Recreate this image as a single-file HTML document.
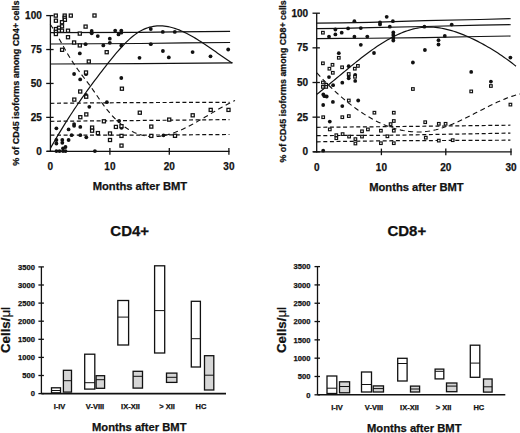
<!DOCTYPE html><html><head><meta charset="utf-8"><style>html,body{margin:0;padding:0;background:#fff;}svg{display:block;} text{font-family:"Liberation Sans", sans-serif;font-weight:bold;fill:#111;stroke:#111;stroke-width:0.25px;}</style></head><body>
<svg width="520" height="433" viewBox="0 0 520 433">
<rect width="520" height="433" fill="#fff"/>
<g stroke="#111" stroke-width="1.3" fill="none">
<line x1="50.4" y1="15.6" x2="50.4" y2="151.9"/>
<line x1="46.9" y1="151.3" x2="229.5" y2="151.3"/>
<line x1="46.2" y1="151.3" x2="53.6" y2="151.3"/>
<line x1="46.2" y1="117.38" x2="53.6" y2="117.38"/>
<line x1="46.2" y1="83.45" x2="53.6" y2="83.45"/>
<line x1="46.2" y1="49.53" x2="53.6" y2="49.53"/>
<line x1="46.2" y1="15.6" x2="53.6" y2="15.6"/>
<line x1="109.9" y1="148.1" x2="109.9" y2="154.7"/>
<line x1="169.3" y1="148.1" x2="169.3" y2="154.7"/>
<line x1="228.9" y1="148.1" x2="228.9" y2="154.7"/>
</g>
<g stroke="#111" stroke-width="1.2" fill="none">
<polyline points="50.4,32.6 140,32.4 175,31.9 230.1,31.3"/>
<polyline points="50.4,44 140,43.5 185,42.8 230.1,42.5"/>
<polyline points="50.4,64 140,63.7 232.5,62.9"/>
</g>
<g stroke="#111" stroke-width="1.2" fill="none" stroke-dasharray="4 2.6">
<polyline points="50.4,103.3 130,102.6 229.5,102.3"/>
<polyline points="50.4,121.3 130,120.6 229.5,119.6"/>
<polyline points="50.4,135.2 130,135.2 229.5,134.5"/>
</g>
<path d="M50.5 148.17 L52.34 144.92 L54.17 141.71 L56.01 138.54 L57.85 135.43 L59.68 132.35 L61.52 129.32 L63.35 126.33 L65.19 123.38 L67.03 120.47 L68.86 117.6 L70.7 114.76 L72.54 111.96 L74.37 109.2 L76.21 106.47 L78.05 103.77 L79.88 101.1 L81.72 98.46 L83.55 95.85 L85.39 93.26 L87.23 90.71 L89.06 88.18 L90.9 85.67 L92.74 83.18 L94.57 80.72 L96.41 78.28 L98.25 75.85 L100.08 73.45 L101.92 71.06 L103.75 68.68 L105.59 66.33 L107.43 63.98 L109.26 61.66 L111.1 59.37 L112.94 57.11 L114.77 54.89 L116.61 52.71 L118.45 50.58 L120.28 48.51 L122.12 46.49 L123.95 44.55 L125.79 42.68 L127.63 40.88 L129.46 39.17 L131.3 37.55 L133.14 36.03 L134.97 34.61 L136.81 33.29 L138.65 32.09 L140.48 31 L142.32 30.02 L144.15 29.16 L145.99 28.4 L147.83 27.74 L149.66 27.19 L151.5 26.73 L153.34 26.38 L155.17 26.11 L157.01 25.94 L158.85 25.85 L160.68 25.85 L162.52 25.93 L164.35 26.09 L166.19 26.33 L168.03 26.64 L169.86 27.03 L171.7 27.48 L173.54 28 L175.37 28.58 L177.21 29.23 L179.05 29.93 L180.88 30.68 L182.72 31.49 L184.55 32.35 L186.39 33.25 L188.23 34.2 L190.06 35.19 L191.9 36.22 L193.74 37.28 L195.57 38.38 L197.41 39.51 L199.25 40.67 L201.08 41.85 L202.92 43.05 L204.75 44.27 L206.59 45.51 L208.43 46.77 L210.26 48.03 L212.1 49.3 L213.94 50.58 L215.77 51.86 L217.61 53.15 L219.45 54.43 L221.28 55.7 L223.12 56.97 L224.95 58.22 L226.79 59.47 L228.63 60.69 L230.46 61.9 L232.3 63.09" stroke="#111" stroke-width="1.2" fill="none"/>
<path d="M50.2 24.23 L52.07 26.98 L53.93 29.92 L55.8 33.02 L57.67 36.23 L59.53 39.53 L61.4 42.87 L63.27 46.22 L65.13 49.55 L67 52.82 L68.87 55.99 L70.73 59.03 L72.6 61.92 L74.47 64.69 L76.33 67.39 L78.2 70.01 L80.07 72.57 L81.93 75.07 L83.8 77.54 L85.67 79.98 L87.53 82.43 L89.4 84.91 L91.27 87.46 L93.13 90.1 L95 92.8 L96.87 95.53 L98.73 98.27 L100.6 100.98 L102.47 103.62 L104.33 106.18 L106.2 108.62 L108.07 110.94 L109.93 113.16 L111.8 115.26 L113.67 117.25 L115.53 119.14 L117.4 120.91 L119.27 122.59 L121.13 124.16 L123 125.62 L124.87 126.99 L126.73 128.26 L128.6 129.44 L130.47 130.51 L132.33 131.5 L134.2 132.39 L136.07 133.19 L137.93 133.91 L139.8 134.54 L141.67 135.08 L143.53 135.54 L145.4 135.91 L147.27 136.21 L149.13 136.42 L151 136.56 L152.87 136.63 L154.73 136.62 L156.6 136.53 L158.47 136.38 L160.33 136.16 L162.2 135.87 L164.07 135.53 L165.93 135.12 L167.8 134.65 L169.67 134.13 L171.53 133.55 L173.4 132.93 L175.27 132.26 L177.13 131.54 L179 130.78 L180.87 129.98 L182.73 129.14 L184.6 128.27 L186.47 127.36 L188.33 126.42 L190.2 125.46 L192.07 124.47 L193.93 123.46 L195.8 122.43 L197.67 121.38 L199.53 120.31 L201.4 119.24 L203.27 118.15 L205.13 117.05 L207 115.95 L208.87 114.85 L210.73 113.75 L212.6 112.65 L214.47 111.55 L216.33 110.46 L218.2 109.39 L220.07 108.32 L221.93 107.27 L223.8 106.24 L225.67 105.22 L227.53 104.23 L229.4 103.27 L231.27 102.33 L233.13 101.42 L235 100.54" stroke="#111" stroke-width="1.1" fill="none" stroke-dasharray="5 3.5"/>
<g fill="#111">
<circle cx="91.7" cy="31" r="1.9"/>
<circle cx="91.7" cy="33.3" r="1.9"/>
<circle cx="97.8" cy="36.1" r="1.9"/>
<circle cx="85.6" cy="44.2" r="1.9"/>
<circle cx="103.3" cy="45.4" r="1.9"/>
<circle cx="79.8" cy="53.4" r="1.9"/>
<circle cx="109.8" cy="38.7" r="1.9"/>
<circle cx="109.8" cy="42.8" r="1.9"/>
<circle cx="115.2" cy="30.6" r="1.9"/>
<circle cx="118.5" cy="34.4" r="1.9"/>
<circle cx="121.3" cy="30.6" r="1.9"/>
<circle cx="121.3" cy="32.7" r="1.9"/>
<circle cx="121.3" cy="45.4" r="1.9"/>
<circle cx="150.8" cy="29" r="1.9"/>
<circle cx="150.8" cy="44.2" r="1.9"/>
<circle cx="162.8" cy="31.9" r="1.9"/>
<circle cx="174.8" cy="31.9" r="1.9"/>
<circle cx="162.9" cy="51" r="1.9"/>
<circle cx="192.6" cy="52.1" r="1.9"/>
<circle cx="228.2" cy="49.5" r="1.9"/>
<circle cx="210.5" cy="56.3" r="1.9"/>
<circle cx="74.1" cy="74" r="1.9"/>
<circle cx="80.2" cy="79.4" r="1.9"/>
<circle cx="86" cy="74.2" r="1.9"/>
<circle cx="86" cy="95" r="1.9"/>
<circle cx="139.5" cy="57.8" r="1.9"/>
<circle cx="121.3" cy="78" r="1.9"/>
<circle cx="168.8" cy="57.4" r="1.9"/>
<circle cx="89.3" cy="106.8" r="1.9"/>
<circle cx="56.4" cy="128.3" r="1.9"/>
<circle cx="68.6" cy="129.4" r="1.9"/>
<circle cx="74.1" cy="124.1" r="1.9"/>
<circle cx="74.1" cy="125.8" r="1.9"/>
<circle cx="80.3" cy="126.9" r="1.9"/>
<circle cx="71.6" cy="135.2" r="1.9"/>
<circle cx="80.3" cy="135.2" r="1.9"/>
<circle cx="86.3" cy="137.3" r="1.9"/>
<circle cx="56.4" cy="140" r="1.9"/>
<circle cx="56.4" cy="143.5" r="1.9"/>
<circle cx="62.3" cy="140" r="1.9"/>
<circle cx="62.3" cy="142.8" r="1.9"/>
<circle cx="68.6" cy="140" r="1.9"/>
<circle cx="65.5" cy="147" r="1.9"/>
<circle cx="63" cy="148.3" r="1.9"/>
<circle cx="56.4" cy="151.1" r="1.9"/>
<circle cx="59.5" cy="151.1" r="1.9"/>
<circle cx="63" cy="151.1" r="1.9"/>
<circle cx="65.5" cy="151.1" r="1.9"/>
<circle cx="94.9" cy="151.1" r="1.9"/>
<circle cx="106.9" cy="102.2" r="1.9"/>
<circle cx="119.1" cy="121" r="1.9"/>
<circle cx="121.5" cy="127.8" r="1.9"/>
<circle cx="163.5" cy="135.3" r="1.9"/>
</g>
<g fill="#fff" stroke="#111" stroke-width="1.25">
<rect x="54.25" y="14.05" width="3.1" height="3.1"/>
<rect x="63.15" y="14.05" width="3.1" height="3.1"/>
<rect x="69.25" y="14.05" width="3.1" height="3.1"/>
<rect x="92.95" y="13.95" width="3.1" height="3.1"/>
<rect x="63.15" y="16.25" width="3.1" height="3.1"/>
<rect x="54.35" y="19.15" width="3.1" height="3.1"/>
<rect x="63.35" y="18.25" width="3.1" height="3.1"/>
<rect x="60.45" y="20.65" width="3.1" height="3.1"/>
<rect x="60.45" y="24.75" width="3.1" height="3.1"/>
<rect x="57.45" y="26.25" width="3.1" height="3.1"/>
<rect x="54.35" y="27.55" width="3.1" height="3.1"/>
<rect x="57.45" y="29.15" width="3.1" height="3.1"/>
<rect x="60.45" y="29.15" width="3.1" height="3.1"/>
<rect x="66.45" y="29.15" width="3.1" height="3.1"/>
<rect x="54.35" y="30.25" width="3.1" height="3.1"/>
<rect x="54.35" y="32.45" width="3.1" height="3.1"/>
<rect x="66.45" y="35.65" width="3.1" height="3.1"/>
<rect x="84.05" y="25.05" width="3.1" height="3.1"/>
<rect x="78.25" y="32.05" width="3.1" height="3.1"/>
<rect x="72.55" y="40.95" width="3.1" height="3.1"/>
<rect x="78.25" y="43.85" width="3.1" height="3.1"/>
<rect x="60.55" y="48.25" width="3.1" height="3.1"/>
<rect x="105.15" y="50.65" width="3.1" height="3.1"/>
<rect x="87.25" y="59.95" width="3.1" height="3.1"/>
<rect x="84.45" y="70.95" width="3.1" height="3.1"/>
<rect x="78.65" y="89.95" width="3.1" height="3.1"/>
<rect x="84.65" y="95.15" width="3.1" height="3.1"/>
<rect x="72.75" y="98.05" width="3.1" height="3.1"/>
<rect x="120.35" y="87.15" width="3.1" height="3.1"/>
<rect x="84.75" y="112.85" width="3.1" height="3.1"/>
<rect x="78.75" y="115.65" width="3.1" height="3.1"/>
<rect x="90.55" y="126.05" width="3.1" height="3.1"/>
<rect x="90.55" y="129.15" width="3.1" height="3.1"/>
<rect x="96.35" y="131.55" width="3.1" height="3.1"/>
<rect x="102.35" y="119.75" width="3.1" height="3.1"/>
<rect x="114.35" y="125.35" width="3.1" height="3.1"/>
<rect x="119.95" y="124.65" width="3.1" height="3.1"/>
<rect x="138.25" y="111.15" width="3.1" height="3.1"/>
<rect x="149.75" y="125.05" width="3.1" height="3.1"/>
<rect x="108.45" y="131.95" width="3.1" height="3.1"/>
<rect x="108.45" y="138.45" width="3.1" height="3.1"/>
<rect x="119.95" y="134.35" width="3.1" height="3.1"/>
<rect x="119.95" y="144.05" width="3.1" height="3.1"/>
<rect x="149.75" y="134.35" width="3.1" height="3.1"/>
<rect x="167.65" y="118.05" width="3.1" height="3.1"/>
<rect x="191.15" y="113.75" width="3.1" height="3.1"/>
<rect x="209.15" y="108.35" width="3.1" height="3.1"/>
<rect x="226.95" y="108.35" width="3.1" height="3.1"/>
<rect x="173.45" y="134.25" width="3.1" height="3.1"/>
</g>
<text x="41.8" y="154.9" font-size="10" text-anchor="end">0</text>
<text x="41.8" y="120.97" font-size="10" text-anchor="end">25</text>
<text x="41.8" y="87.05" font-size="10" text-anchor="end">50</text>
<text x="41.8" y="53.13" font-size="10" text-anchor="end">75</text>
<text x="41.8" y="19.2" font-size="10" text-anchor="end">100</text>
<text x="50.4" y="170.1" font-size="10" text-anchor="middle">0</text>
<text x="109.9" y="170.1" font-size="10" text-anchor="middle">10</text>
<text x="169.3" y="170.1" font-size="10" text-anchor="middle">20</text>
<text x="228.9" y="170.1" font-size="10" text-anchor="middle">30</text>
<text x="92.7" y="189.6" font-size="11.2" text-anchor="start">Months after BMT</text>
<text transform="translate(19.3 165.8) rotate(-90)" font-size="9.5" textLength="165.3" lengthAdjust="spacingAndGlyphs">% of CD45 isoforms among CD4+ cells</text>
<g stroke="#111" stroke-width="1.3" fill="none">
<line x1="316.7" y1="13.2" x2="316.7" y2="152.4"/>
<line x1="313.2" y1="151.8" x2="511.6" y2="151.8"/>
<line x1="312.5" y1="151.8" x2="319.9" y2="151.8"/>
<line x1="312.5" y1="117.15" x2="319.9" y2="117.15"/>
<line x1="312.5" y1="82.5" x2="319.9" y2="82.5"/>
<line x1="312.5" y1="47.85" x2="319.9" y2="47.85"/>
<line x1="312.5" y1="13.2" x2="319.9" y2="13.2"/>
<line x1="381.4" y1="148.6" x2="381.4" y2="155.2"/>
<line x1="445.8" y1="148.6" x2="445.8" y2="155.2"/>
<line x1="511" y1="148.6" x2="511" y2="155.2"/>
</g>
<g stroke="#111" stroke-width="1.2" fill="none">
<polyline points="316.7,23.1 342,22.9 370,22.3 425,20.6 480,19.5 510.6,18.7"/>
<polyline points="316.7,28.55 342,28.4 370,27.7 425,26.5 480,25.2 510.6,24.7"/>
<polyline points="316.7,38.6 342,38.4 370,38.25 425,37.7 480,36.5 510.6,36"/>
</g>
<g stroke="#111" stroke-width="1.2" fill="none" stroke-dasharray="4 2.6">
<polyline points="316.7,127.3 395,126.6 510.4,125.2"/>
<polyline points="316.7,135.6 395,135.2 510.4,133.1"/>
<polyline points="316.7,141.8 395,140.7 510.4,140.2"/>
</g>
<path d="M316.9 94.32 L318.91 92.71 L320.92 91.09 L322.93 89.46 L324.94 87.81 L326.96 86.16 L328.97 84.5 L330.98 82.83 L332.99 81.15 L335 79.47 L337.01 77.79 L339.02 76.11 L341.03 74.43 L343.04 72.76 L345.06 71.09 L347.07 69.42 L349.08 67.77 L351.09 66.12 L353.1 64.48 L355.11 62.86 L357.12 61.26 L359.13 59.66 L361.14 58.09 L363.16 56.54 L365.17 55.01 L367.18 53.5 L369.19 52.02 L371.2 50.56 L373.21 49.13 L375.22 47.73 L377.23 46.36 L379.24 45.02 L381.26 43.72 L383.27 42.46 L385.28 41.23 L387.29 40.04 L389.3 38.9 L391.31 37.79 L393.32 36.73 L395.33 35.72 L397.34 34.75 L399.36 33.84 L401.37 32.97 L403.38 32.16 L405.39 31.4 L407.4 30.7 L409.41 30.06 L411.42 29.47 L413.43 28.95 L415.44 28.49 L417.46 28.09 L419.47 27.76 L421.48 27.49 L423.49 27.3 L425.5 27.17 L427.51 27.1 L429.52 27.09 L431.53 27.15 L433.54 27.26 L435.56 27.43 L437.57 27.66 L439.58 27.94 L441.59 28.27 L443.6 28.65 L445.61 29.08 L447.62 29.56 L449.63 30.09 L451.64 30.66 L453.66 31.27 L455.67 31.93 L457.68 32.62 L459.69 33.36 L461.7 34.12 L463.71 34.93 L465.72 35.76 L467.73 36.63 L469.74 37.53 L471.76 38.46 L473.77 39.41 L475.78 40.4 L477.79 41.41 L479.8 42.45 L481.81 43.52 L483.82 44.62 L485.83 45.74 L487.84 46.9 L489.86 48.09 L491.87 49.3 L493.88 50.55 L495.89 51.82 L497.9 53.12 L499.91 54.45 L501.92 55.82 L503.93 57.21 L505.94 58.63 L507.96 60.08 L509.97 61.57 L511.98 63.08 L513.99 64.62 L516 66.19" stroke="#111" stroke-width="1.2" fill="none"/>
<path d="M316.9 72.95 L318.95 75.18 L321 77.37 L323.05 79.52 L325.11 81.63 L327.16 83.71 L329.21 85.74 L331.26 87.74 L333.31 89.7 L335.36 91.61 L337.42 93.49 L339.47 95.33 L341.52 97.13 L343.57 98.88 L345.62 100.6 L347.67 102.27 L349.72 103.9 L351.78 105.49 L353.83 107.03 L355.88 108.54 L357.93 110 L359.98 111.41 L362.03 112.79 L364.08 114.12 L366.14 115.4 L368.19 116.64 L370.24 117.84 L372.29 118.99 L374.34 120.09 L376.39 121.15 L378.45 122.16 L380.5 123.12 L382.55 124.04 L384.6 124.91 L386.65 125.74 L388.7 126.51 L390.75 127.23 L392.81 127.91 L394.86 128.54 L396.91 129.11 L398.96 129.63 L401.01 130.11 L403.06 130.53 L405.12 130.89 L407.17 131.21 L409.22 131.47 L411.27 131.67 L413.32 131.82 L415.37 131.92 L417.42 131.96 L419.48 131.94 L421.53 131.87 L423.58 131.74 L425.63 131.55 L427.68 131.31 L429.73 131 L431.78 130.64 L433.84 130.21 L435.89 129.73 L437.94 129.2 L439.99 128.62 L442.04 127.98 L444.09 127.3 L446.15 126.58 L448.2 125.81 L450.25 125.01 L452.3 124.17 L454.35 123.3 L456.4 122.4 L458.45 121.47 L460.51 120.51 L462.56 119.54 L464.61 118.54 L466.66 117.53 L468.71 116.5 L470.76 115.46 L472.82 114.42 L474.87 113.36 L476.92 112.31 L478.97 111.25 L481.02 110.19 L483.07 109.14 L485.12 108.09 L487.18 107.06 L489.23 106.04 L491.28 105.03 L493.33 104.04 L495.38 103.07 L497.43 102.12 L499.48 101.2 L501.54 100.31 L503.59 99.44 L505.64 98.62 L507.69 97.82 L509.74 97.07 L511.79 96.36 L513.85 95.69 L515.9 95.07 L517.95 94.5 L520 93.98" stroke="#111" stroke-width="1.1" fill="none" stroke-dasharray="5 3.5"/>
<g fill="#111">
<circle cx="354.4" cy="21.2" r="1.9"/>
<circle cx="348.1" cy="28.4" r="1.9"/>
<circle cx="360.8" cy="28.1" r="1.9"/>
<circle cx="335.4" cy="29.5" r="1.9"/>
<circle cx="335.4" cy="34.4" r="1.9"/>
<circle cx="341.7" cy="32.7" r="1.9"/>
<circle cx="329" cy="36.7" r="1.9"/>
<circle cx="354.4" cy="36.7" r="1.9"/>
<circle cx="367.3" cy="36.6" r="1.9"/>
<circle cx="360.8" cy="44.8" r="1.9"/>
<circle cx="338.8" cy="53.2" r="1.9"/>
<circle cx="386.7" cy="16.8" r="1.9"/>
<circle cx="380" cy="22.5" r="1.9"/>
<circle cx="380" cy="24.4" r="1.9"/>
<circle cx="392.9" cy="21.2" r="1.9"/>
<circle cx="389.8" cy="26.7" r="1.9"/>
<circle cx="393.3" cy="32.5" r="1.9"/>
<circle cx="393.3" cy="35" r="1.9"/>
<circle cx="393.3" cy="37.9" r="1.9"/>
<circle cx="393.3" cy="40.5" r="1.9"/>
<circle cx="374" cy="53" r="1.9"/>
<circle cx="424.4" cy="26.7" r="1.9"/>
<circle cx="424.9" cy="50" r="1.9"/>
<circle cx="451.7" cy="24.6" r="1.9"/>
<circle cx="444.8" cy="35.9" r="1.9"/>
<circle cx="438.5" cy="40.2" r="1.9"/>
<circle cx="438.5" cy="44.5" r="1.9"/>
<circle cx="510.4" cy="57.6" r="1.9"/>
<circle cx="471.2" cy="71.9" r="1.9"/>
<circle cx="348.7" cy="66.2" r="1.9"/>
<circle cx="329" cy="77.1" r="1.9"/>
<circle cx="342.3" cy="82.7" r="1.9"/>
<circle cx="333.1" cy="85.2" r="1.9"/>
<circle cx="348.7" cy="76" r="1.9"/>
<circle cx="348.7" cy="78.3" r="1.9"/>
<circle cx="355.2" cy="74.8" r="1.9"/>
<circle cx="355.2" cy="80.9" r="1.9"/>
<circle cx="323.3" cy="94.4" r="1.9"/>
<circle cx="324.4" cy="96.2" r="1.9"/>
<circle cx="326.7" cy="96.5" r="1.9"/>
<circle cx="412.9" cy="62.5" r="1.9"/>
<circle cx="490.9" cy="81.6" r="1.9"/>
<circle cx="323.2" cy="105" r="1.9"/>
<circle cx="332.9" cy="101.9" r="1.9"/>
<circle cx="342.3" cy="106.1" r="1.9"/>
<circle cx="358.2" cy="100.5" r="1.9"/>
<circle cx="329.8" cy="121.6" r="1.9"/>
<circle cx="323.2" cy="150.7" r="1.9"/>
</g>
<g fill="#fff" stroke="#111" stroke-width="1.15">
<rect x="321.6" y="31.4" width="2.6" height="2.6"/>
<rect x="321.6" y="62" width="2.6" height="2.6"/>
<rect x="331.2" y="63.5" width="2.6" height="2.6"/>
<rect x="328.1" y="67.4" width="2.6" height="2.6"/>
<rect x="331.5" y="71.5" width="2.6" height="2.6"/>
<rect x="340.8" y="66" width="2.6" height="2.6"/>
<rect x="337.5" y="56.5" width="2.6" height="2.6"/>
<rect x="353.5" y="67.4" width="2.6" height="2.6"/>
<rect x="356.6" y="64.6" width="2.6" height="2.6"/>
<rect x="347.4" y="72.7" width="2.6" height="2.6"/>
<rect x="353.7" y="75.5" width="2.6" height="2.6"/>
<rect x="321.6" y="81.2" width="2.6" height="2.6"/>
<rect x="321.6" y="85.6" width="2.6" height="2.6"/>
<rect x="324.9" y="83.5" width="2.6" height="2.6"/>
<rect x="324.9" y="85.6" width="2.6" height="2.6"/>
<rect x="411.6" y="87.7" width="2.6" height="2.6"/>
<rect x="469.9" y="90.1" width="2.6" height="2.6"/>
<rect x="489.6" y="84.7" width="2.6" height="2.6"/>
<rect x="347.5" y="99.2" width="2.6" height="2.6"/>
<rect x="321.9" y="115.9" width="2.6" height="2.6"/>
<rect x="341" y="115.9" width="2.6" height="2.6"/>
<rect x="347.5" y="114.8" width="2.6" height="2.6"/>
<rect x="328.5" y="128.1" width="2.6" height="2.6"/>
<rect x="335" y="133.9" width="2.6" height="2.6"/>
<rect x="335" y="136.9" width="2.6" height="2.6"/>
<rect x="341.3" y="132.8" width="2.6" height="2.6"/>
<rect x="347.8" y="135.3" width="2.6" height="2.6"/>
<rect x="354.1" y="137.8" width="2.6" height="2.6"/>
<rect x="354.1" y="142.2" width="2.6" height="2.6"/>
<rect x="360.7" y="130" width="2.6" height="2.6"/>
<rect x="360.7" y="135.3" width="2.6" height="2.6"/>
<rect x="366.6" y="128.1" width="2.6" height="2.6"/>
<rect x="373.1" y="111.4" width="2.6" height="2.6"/>
<rect x="392.5" y="111.4" width="2.6" height="2.6"/>
<rect x="392.5" y="119.7" width="2.6" height="2.6"/>
<rect x="389.3" y="122.8" width="2.6" height="2.6"/>
<rect x="379.6" y="129.4" width="2.6" height="2.6"/>
<rect x="392.5" y="129.4" width="2.6" height="2.6"/>
<rect x="386.1" y="135" width="2.6" height="2.6"/>
<rect x="379.6" y="141.9" width="2.6" height="2.6"/>
<rect x="392.5" y="141.9" width="2.6" height="2.6"/>
<rect x="423.9" y="120.9" width="2.6" height="2.6"/>
<rect x="437.5" y="122.5" width="2.6" height="2.6"/>
<rect x="444.3" y="122.5" width="2.6" height="2.6"/>
<rect x="424.5" y="136.4" width="2.6" height="2.6"/>
<rect x="437.5" y="139.3" width="2.6" height="2.6"/>
<rect x="451.4" y="138.9" width="2.6" height="2.6"/>
<rect x="509.1" y="103.3" width="2.6" height="2.6"/>
</g>
<text x="308.1" y="155.4" font-size="10" text-anchor="end">0</text>
<text x="308.1" y="120.75" font-size="10" text-anchor="end">25</text>
<text x="308.1" y="86.1" font-size="10" text-anchor="end">50</text>
<text x="308.1" y="51.45" font-size="10" text-anchor="end">75</text>
<text x="308.1" y="16.8" font-size="10" text-anchor="end">100</text>
<text x="316.7" y="171.2" font-size="10" text-anchor="middle">0</text>
<text x="381.4" y="171.2" font-size="10" text-anchor="middle">10</text>
<text x="445.8" y="171.2" font-size="10" text-anchor="middle">20</text>
<text x="511" y="171.2" font-size="10" text-anchor="middle">30</text>
<text x="369.2" y="191.2" font-size="11.2" text-anchor="start">Months after BMT</text>
<text transform="translate(286.3 162.5) rotate(-90)" font-size="9.5" textLength="162.2" lengthAdjust="spacingAndGlyphs">% of CD45 isoforms among CD8+ cells</text>
<g stroke="#111" stroke-width="1.3" fill="none">
<line x1="41.4" y1="266.9" x2="41.4" y2="393.6"/>
<line x1="41.4" y1="393.6" x2="226" y2="393.6" stroke-width="1.6"/>
<line x1="38.4" y1="393.6" x2="43.9" y2="393.6"/>
<line x1="38.4" y1="375.5" x2="43.9" y2="375.5"/>
<line x1="38.4" y1="357.4" x2="43.9" y2="357.4"/>
<line x1="38.4" y1="339.3" x2="43.9" y2="339.3"/>
<line x1="38.4" y1="321.2" x2="43.9" y2="321.2"/>
<line x1="38.4" y1="303.1" x2="43.9" y2="303.1"/>
<line x1="38.4" y1="285" x2="43.9" y2="285"/>
<line x1="38.4" y1="266.9" x2="43.9" y2="266.9"/>
</g>
<text x="34.9" y="396.3" font-size="7.6" text-anchor="end">0</text>
<text x="34.9" y="378.2" font-size="7.6" text-anchor="end">500</text>
<text x="34.9" y="360.1" font-size="7.6" text-anchor="end">1000</text>
<text x="34.9" y="342" font-size="7.6" text-anchor="end">1500</text>
<text x="34.9" y="323.9" font-size="7.6" text-anchor="end">2000</text>
<text x="34.9" y="305.8" font-size="7.6" text-anchor="end">2500</text>
<text x="34.9" y="287.7" font-size="7.6" text-anchor="end">3000</text>
<text x="34.9" y="269.6" font-size="7.6" text-anchor="end">3500</text>
<g stroke="#111" stroke-width="1.3">
<rect x="51.5" y="387.8" width="9" height="5" fill="#fff"/>
<line x1="51.5" y1="390.5" x2="60.5" y2="390.5" stroke-width="1"/>
<rect x="63.4" y="370.3" width="8.1" height="21.8" fill="#d6d6d6"/>
<line x1="63.4" y1="380.7" x2="71.5" y2="380.7" stroke-width="1"/>
<rect x="84.7" y="354.2" width="10.1" height="34.9" fill="#fff"/>
<line x1="84.7" y1="382.7" x2="94.8" y2="382.7" stroke-width="1"/>
<rect x="96.1" y="375.7" width="8.5" height="12.6" fill="#d6d6d6"/>
<line x1="96.1" y1="379.7" x2="104.6" y2="379.7" stroke-width="1"/>
<rect x="117.8" y="300.5" width="10.8" height="44.5" fill="#fff"/>
<line x1="117.8" y1="317.1" x2="128.6" y2="317.1" stroke-width="1"/>
<rect x="133.1" y="371.3" width="9.4" height="16.8" fill="#d6d6d6"/>
<line x1="133.1" y1="376.3" x2="142.5" y2="376.3" stroke-width="1"/>
<rect x="154.6" y="265.8" width="10.1" height="87.2" fill="#fff"/>
<line x1="154.6" y1="310.6" x2="164.7" y2="310.6" stroke-width="1"/>
<rect x="166.5" y="373.1" width="10.4" height="9.3" fill="#d6d6d6"/>
<line x1="166.5" y1="377.3" x2="176.9" y2="377.3" stroke-width="1"/>
<rect x="191.3" y="301.3" width="9.1" height="65.7" fill="#fff"/>
<line x1="191.3" y1="338.7" x2="200.4" y2="338.7" stroke-width="1"/>
<rect x="204.5" y="355.7" width="9.3" height="34.3" fill="#d6d6d6"/>
<line x1="204.5" y1="375.2" x2="213.8" y2="375.2" stroke-width="1"/>
</g>
<text x="59.5" y="408.5" font-size="7.5" text-anchor="middle">I-IV</text>
<text x="95" y="408.5" font-size="7.5" text-anchor="middle">V-VIII</text>
<text x="130.5" y="408.5" font-size="7.5" text-anchor="middle">IX-XII</text>
<text x="167" y="408.5" font-size="7.5" text-anchor="middle">&gt; XII</text>
<text x="201" y="408.5" font-size="7.5" text-anchor="middle">HC</text>
<text x="110.3" y="236" font-size="15" text-anchor="start">CD4+</text>
<text x="92" y="430.5" font-size="11.2" text-anchor="start">Months after BMT</text>
<text transform="translate(10.4 330) rotate(-90)" font-size="13.3" text-anchor="middle">Cells/<tspan font-weight="normal">&#956;l</tspan></text>
<g stroke="#111" stroke-width="1.3" fill="none">
<line x1="317.5" y1="266.6" x2="317.5" y2="394.8"/>
<line x1="317.5" y1="394.8" x2="505.3" y2="394.8" stroke-width="1.6"/>
<line x1="314.5" y1="394.8" x2="320" y2="394.8"/>
<line x1="314.5" y1="376.49" x2="320" y2="376.49"/>
<line x1="314.5" y1="358.17" x2="320" y2="358.17"/>
<line x1="314.5" y1="339.86" x2="320" y2="339.86"/>
<line x1="314.5" y1="321.54" x2="320" y2="321.54"/>
<line x1="314.5" y1="303.23" x2="320" y2="303.23"/>
<line x1="314.5" y1="284.91" x2="320" y2="284.91"/>
<line x1="314.5" y1="266.6" x2="320" y2="266.6"/>
</g>
<text x="310.5" y="397.5" font-size="7.6" text-anchor="end">0</text>
<text x="310.5" y="379.19" font-size="7.6" text-anchor="end">500</text>
<text x="310.5" y="360.87" font-size="7.6" text-anchor="end">1000</text>
<text x="310.5" y="342.56" font-size="7.6" text-anchor="end">1500</text>
<text x="310.5" y="324.24" font-size="7.6" text-anchor="end">2000</text>
<text x="310.5" y="305.93" font-size="7.6" text-anchor="end">2500</text>
<text x="310.5" y="287.61" font-size="7.6" text-anchor="end">3000</text>
<text x="310.5" y="269.3" font-size="7.6" text-anchor="end">3500</text>
<g stroke="#111" stroke-width="1.3">
<rect x="327" y="376" width="9.8" height="17.5" fill="#fff"/>
<line x1="327" y1="388.2" x2="336.8" y2="388.2" stroke-width="1"/>
<rect x="339.5" y="381.8" width="10.1" height="11" fill="#d6d6d6"/>
<line x1="339.5" y1="386.5" x2="349.6" y2="386.5" stroke-width="1"/>
<rect x="361.5" y="372" width="10" height="20" fill="#fff"/>
<line x1="361.5" y1="384.5" x2="371.5" y2="384.5" stroke-width="1"/>
<rect x="373.2" y="385.9" width="10.3" height="6.1" fill="#d6d6d6"/>
<line x1="373.2" y1="388.6" x2="383.5" y2="388.6" stroke-width="1"/>
<rect x="397.7" y="358.3" width="9.4" height="22.7" fill="#fff"/>
<line x1="397.7" y1="363.5" x2="407.1" y2="363.5" stroke-width="1"/>
<rect x="410.5" y="386.1" width="9.1" height="5.9" fill="#d6d6d6"/>
<line x1="410.5" y1="389" x2="419.6" y2="389" stroke-width="1"/>
<rect x="435.1" y="369.1" width="8.7" height="9.8" fill="#fff"/>
<line x1="435.1" y1="371.3" x2="443.8" y2="371.3" stroke-width="1"/>
<rect x="446.5" y="383" width="10.4" height="8.7" fill="#d6d6d6"/>
<line x1="446.5" y1="386.1" x2="456.9" y2="386.1" stroke-width="1"/>
<rect x="470.3" y="345.2" width="9.5" height="32.1" fill="#fff"/>
<line x1="470.3" y1="363.1" x2="479.8" y2="363.1" stroke-width="1"/>
<rect x="483.5" y="379" width="8.6" height="13.1" fill="#d6d6d6"/>
<line x1="483.5" y1="386.8" x2="492.1" y2="386.8" stroke-width="1"/>
</g>
<text x="337" y="409.5" font-size="7.5" text-anchor="middle">I-IV</text>
<text x="374" y="409.5" font-size="7.5" text-anchor="middle">V-VIII</text>
<text x="409.5" y="409.5" font-size="7.5" text-anchor="middle">IX-XII</text>
<text x="443.5" y="409.5" font-size="7.5" text-anchor="middle">&gt; XII</text>
<text x="478.8" y="409.5" font-size="7.5" text-anchor="middle">HC</text>
<text x="387.4" y="235.6" font-size="15" text-anchor="start">CD8+</text>
<text x="367" y="431.75" font-size="11.2" text-anchor="start">Months after BMT</text>
<text transform="translate(286.2 330) rotate(-90)" font-size="13.3" text-anchor="middle">Cells/<tspan font-weight="normal">&#956;l</tspan></text>
</svg></body></html>
